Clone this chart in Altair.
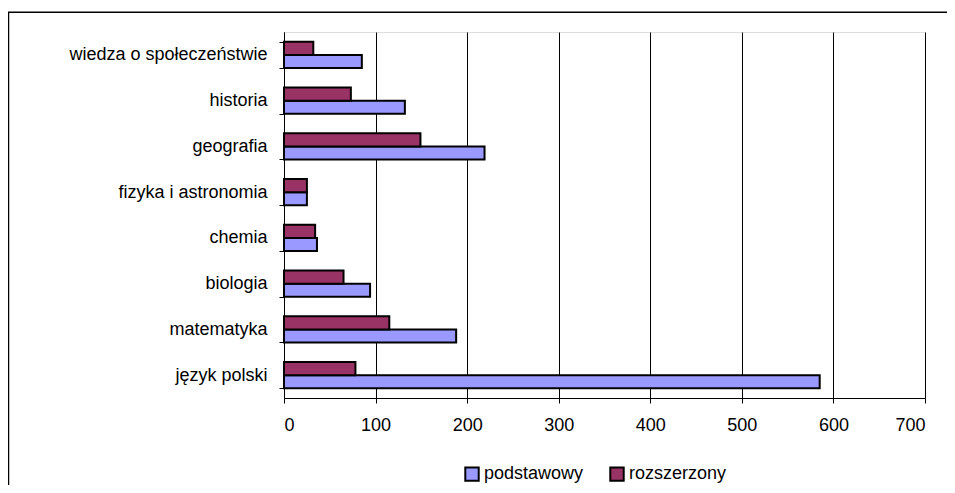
import altair as alt
import pandas as pd

categories = ["język polski", "matematyka", "biologia", "chemia",
              "fizyka i astronomia", "geografia", "historia",
              "wiedza o społeczeństwie"]
podstawowy = [585, 188, 94, 36, 25, 219, 132, 85]
rozszerzony = [78, 115, 65, 34, 25, 149, 73, 32]
series = ["podstawowy", "rozszerzony"]
colors = ["#9999FF", "#993366"]
x_ticks = [0, 100, 200, 300, 400, 500, 600, 700]

rows = []
for c, p, r in zip(categories, podstawowy, rozszerzony):
    rows.append({"kat": c, "seria": "podstawowy", "val": p})
    rows.append({"kat": c, "seria": "rozszerzony", "val": r})
df = pd.DataFrame(rows)

FONT = "Liberation Sans"

bars = alt.Chart(df).mark_bar(stroke="black", strokeWidth=2).encode(
    x=alt.X("val:Q",
            scale=alt.Scale(domain=[0, 700], nice=False),
            axis=alt.Axis(values=x_ticks, title=None, grid=True,
                          gridColor="black", gridWidth=1, gridOpacity=1,
                          domainColor="black", domainWidth=1,
                          tickColor="black", tickSize=5,
                          labelFont=FONT, labelFontSize=18, labelColor="black",
                          labelPadding=13)),
    y=alt.Y("kat:N", sort=list(reversed(categories)),
            scale=alt.Scale(paddingInner=0.43, paddingOuter=0.215),
            axis=alt.Axis(title=None, tickBand="extent", grid=False,
                          domainColor="black", domainWidth=1,
                          tickColor="black", tickSize=5,
                          labelFont=FONT, labelFontSize=18, labelColor="black",
                          labelPadding=12, labelLimit=0)),
    yOffset=alt.YOffset("seria:N", sort=["rozszerzony", "podstawowy"],
                        scale=alt.Scale(paddingInner=0, paddingOuter=0)),
    color=alt.Color("seria:N",
                    scale=alt.Scale(domain=series, range=colors),
                    legend=alt.Legend(title=None, orient="none",
                                      legendX=179, legendY=433,
                                      direction="horizontal",
                                      symbolType="square", symbolSize=180,
                                      symbolStrokeColor="black",
                                      symbolStrokeWidth=2,
                                      symbolOpacity=1,
                                      labelFont=FONT, labelFontSize=18,
                                      labelColor="black", labelOffset=3,
                                      columnPadding=22)),
)

frame = alt.Chart(pd.DataFrame({"a": [0]})).mark_rect(
    fill=None, stroke="black", strokeWidth=1.5
).encode(
    x=alt.value(-275.5), x2=alt.value(720),
    y=alt.value(-19.7), y2=alt.value(520),
)

chart = alt.layer(frame, bars).properties(
    width=641, height=366,
    padding={"left": 276, "top": 24, "right": 22, "bottom": 87},
    autosize=alt.AutoSizeParams(type="none"),
).configure_view(
    stroke="#808080", strokeWidth=2
).configure(background="white")

chart.save("out.html", embed_options={"renderer": "svg", "actions": False})
